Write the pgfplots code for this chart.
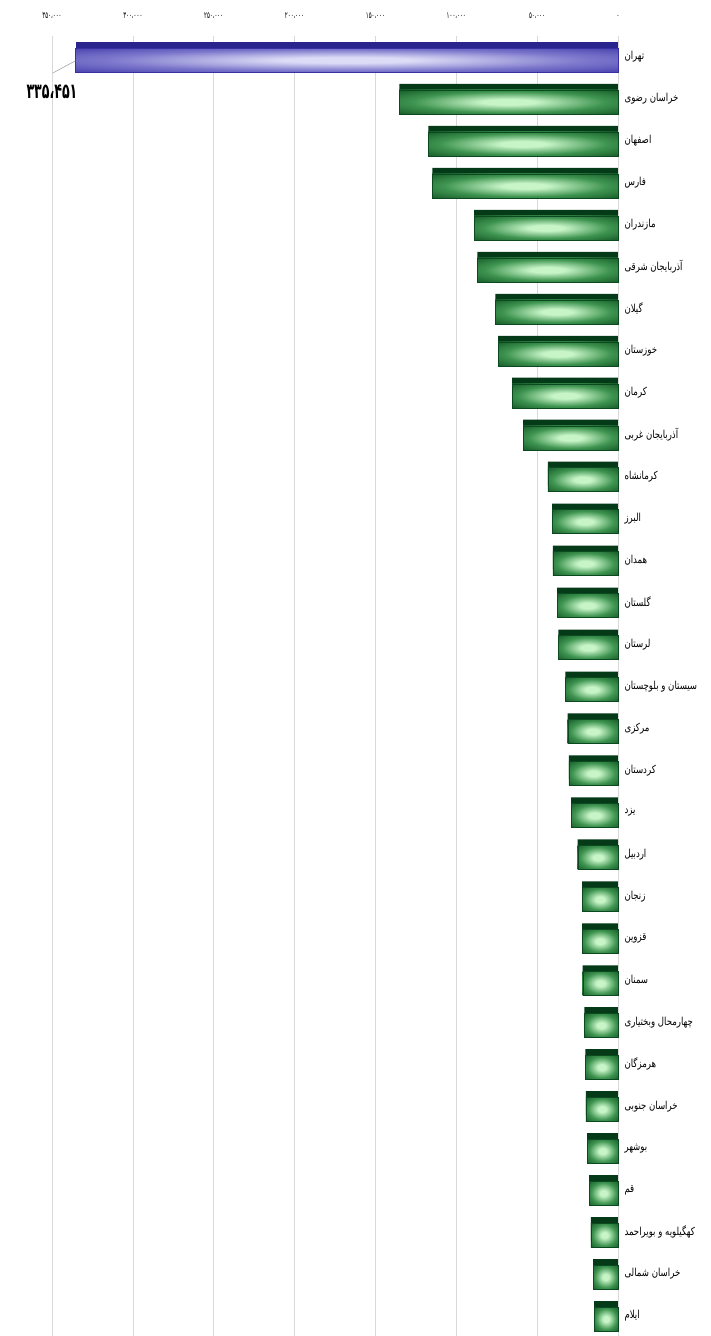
\documentclass[border=0pt]{standalone}
\usepackage{fontspec}
\usepackage{pgfplots}
\usepackage{pgfplotstable}
\pgfplotsset{compat=1.18}
\TeXXeTstate=1
\newfontfamily\arabicfont[Script=Arabic,FakeStretch=0.78]{DejaVu Sans}
\newfontfamily\numfont[Script=Arabic,FakeStretch=0.6]{DejaVu Sans}
\definecolor{gd}{HTML}{0A4A1D}
\definecolor{gm}{HTML}{3E9450}
\definecolor{gl}{HTML}{C8F5C8}
\definecolor{gtop}{HTML}{053A18}
\definecolor{gedge}{HTML}{0A4A1E}
\definecolor{bd}{HTML}{3630A4}
\definecolor{bm}{HTML}{7D78CC}
\definecolor{bl}{HTML}{DCDCF6}
\definecolor{btop}{HTML}{2A248E}
\pgfdeclareradialshading{greenbar}{\pgfpoint{0bp}{0bp}}{color(0bp)=(gl); color(6bp)=(gl); color(22bp)=(gm); color(40bp)=(gd); color(50bp)=(gd)}
\pgfdeclareradialshading{bluebar}{\pgfpoint{0bp}{0bp}}{color(0bp)=(bl); color(6bp)=(bl); color(22bp)=(bm); color(40bp)=(bd); color(50bp)=(bd)}
\pgfplotstableread{
idx val
1 135200
2 117300
3 114800
4 88900
5 87000
6 75900
7 74100
8 65400
9 58600
10 43400
11 40700
12 40300
13 37700
14 36900
15 32500
16 31100
17 30400
18 29000
19 24900
20 22200
21 22200
22 21800
23 20800
24 20200
25 19800
26 19100
27 17900
28 16700
29 15400
30 14800
}\greens
\pgfplotstableread{
idx val
0 335451
}\tehran
\begin{document}
\begin{tikzpicture}
\begin{axis}[
  at={(0pt,0pt)}, anchor=north west,
  scale only axis, width=566pt, height=1301pt,
  x dir=reverse, y dir=reverse,
  xmin=0, xmax=350000, ymin=-0.5, ymax=30.5,
  clip=false,
  axis line style={draw=none},
  major tick length=0pt,
  xtick={0,50000,100000,150000,200000,250000,300000,350000},
  xticklabels={۰,۵۰،۰۰۰,۱۰۰،۰۰۰,۱۵۰،۰۰۰,۲۰۰،۰۰۰,۲۵۰،۰۰۰,۳۰۰،۰۰۰,۳۵۰،۰۰۰},
  xticklabel pos=upper,
  xticklabel style={font=\numfont\fontsize{9}{10}\selectfont, yshift=14pt},
  xmajorgrids,
  grid style={draw=gray!30, line width=0.7pt},
  ytick={0,...,30},
  yticklabel pos=right,
  yticklabel style={font=\arabicfont\fontsize{11}{12}\selectfont, anchor=west, xshift=3pt},
  yticklabels={
    {\beginR تهران\endR},{\beginR خراسان رضوی\endR},{\beginR اصفهان\endR},{\beginR فارس\endR},{\beginR مازندران\endR},
    {\beginR آذربایجان شرقی\endR},{\beginR گیلان\endR},{\beginR خوزستان\endR},{\beginR کرمان\endR},{\beginR آذربایجان غربی\endR},
    {\beginR کرمانشاه\endR},{\beginR البرز\endR},{\beginR همدان\endR},{\beginR گلستان\endR},{\beginR لرستان\endR},
    {\beginR سیستان و بلوچستان\endR},{\beginR مرکزی\endR},{\beginR کردستان\endR},{\beginR یزد\endR},{\beginR اردبیل\endR},
    {\beginR زنجان\endR},{\beginR قزوین\endR},{\beginR سمنان\endR},{\beginR چهارمحال وبختیاری\endR},{\beginR هرمزگان\endR},
    {\beginR خراسان جنوبی\endR},{\beginR بوشهر\endR},{\beginR قم\endR},{\beginR کهگیلویه و بویراحمد\endR},{\beginR خراسان شمالی\endR},
    {\beginR ایلام\endR}},
]
\addplot[xbar, bar width=24pt, bar shift=3pt, fill=gtop, draw=none] table[x=val,y=idx]{\greens};
\pgfplotsinvokeforeach{1,...,30}{
  \addplot[xbar, bar width=24pt, bar shift=-3pt, shade, shading=greenbar, draw=gedge, line width=0.4pt,
    restrict y to domain=#1:#1] table[x=val,y=idx]{\greens};
}
\addplot[xbar, bar width=24pt, bar shift=3pt, fill=btop, draw=none] table[x=val,y=idx]{\tehran};
\addplot[xbar, bar width=24pt, bar shift=-3pt, shade, shading=bluebar, draw=bd, line width=0.4pt] table[x=val,y=idx]{\tehran};
\draw[gray!70, line width=0.6pt] (axis cs:335451,0.09) -- (axis cs:349400,0.38);
\node[font=\numfont\bfseries\fontsize{21}{22}\selectfont, anchor=center] at (axis cs:350000,0.83) {۳۳۵،۴۵۱};
\end{axis}
\pgfresetboundingbox
\path (-52pt,36pt) rectangle (659pt,-1300pt);
\end{tikzpicture}
\end{document}
